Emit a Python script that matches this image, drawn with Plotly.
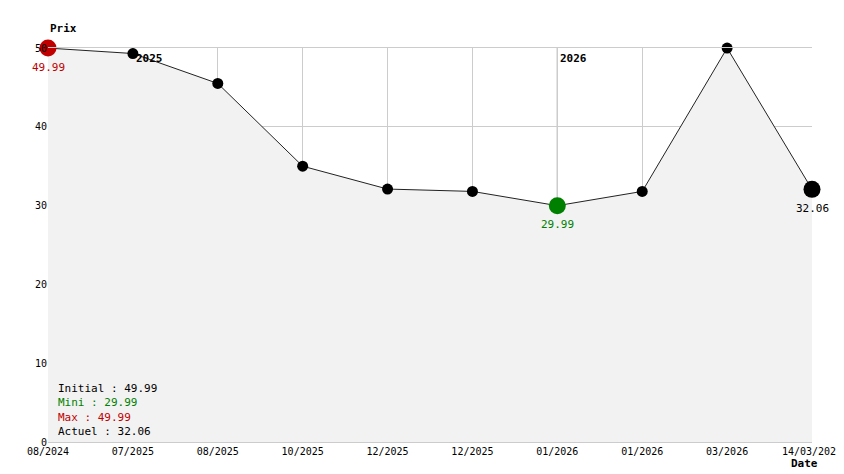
import plotly.graph_objects as go

dates = ["08/2024", "07/2025", "08/2025", "10/2025", "12/2025", "12/2025",
         "01/2026", "01/2026", "03/2026", "14/03/2026"]
prices = [49.99, 49.3, 45.5, 35.0, 32.1, 31.8, 29.99, 31.8, 49.99, 32.06]
year_marks = [(1, "2025"), (6, "2026")]

x = list(range(len(dates)))
FONT = "DejaVu Sans Mono"

sizes = [11] * len(x)
colors = ["black"] * len(x)
sizes[0], colors[0] = 17, "#c00000"
sizes[6], colors[6] = 17, "#008000"
sizes[-1] = 17

fig = go.Figure()
fig.add_trace(go.Scatter(
    x=x, y=prices, mode="lines+markers", fill="tozeroy", fillcolor="#f2f2f2",
    line=dict(color="#222", width=1), cliponaxis=False,
    marker=dict(size=sizes, color=colors, opacity=1, line=dict(width=0)),
    hoverinfo="skip"))

for i, yr in year_marks:
    fig.add_shape(type="line", x0=i, x1=i, y0=0, y1=50, layer="below",
                  line=dict(color="#666", width=1))
    fig.add_annotation(x=i, y=50, text="<b>" + yr + "</b>", showarrow=False,
                       xanchor="left", yanchor="top", yshift=-2, xshift=1,
                       font=dict(size=11, color="black", family=FONT))

fig.add_annotation(x=0, y=prices[0], text="49.99", showarrow=False, yshift=-19,
                   font=dict(size=11, color="#c00000", family=FONT))
fig.add_annotation(x=6, y=prices[6], text="29.99", showarrow=False, yshift=-19,
                   font=dict(size=11, color="#008000", family=FONT))
fig.add_annotation(x=9, y=prices[9], text="32.06", showarrow=False, yshift=-19,
                   font=dict(size=11, color="black", family=FONT))

legend = ("Initial : 49.99<br><span style='color:#008000'>Mini : 29.99</span><br>"
          "<span style='color:#c00000'>Max : 49.99</span><br>Actuel : 32.06")
fig.add_annotation(xref="paper", yref="paper", x=0.01, y=0.0, yshift=2, text=legend,
                   showarrow=False, xanchor="left", yanchor="bottom", align="left",
                   font=dict(size=11, color="black", family=FONT))
fig.add_annotation(xref="paper", yref="paper", x=0.0, y=1.0, yshift=28, text="<b>Prix</b>",
                   showarrow=False, xanchor="left", font=dict(size=11, family=FONT))
fig.add_annotation(xref="paper", yref="paper", x=1.0, y=0.0, yshift=-30, xshift=8,
                   text="<b>Date</b>", showarrow=False, xanchor="right",
                   font=dict(size=11, family=FONT))

fig.update_layout(
    width=844, height=474, margin=dict(l=40, r=40, t=40, b=40),
    plot_bgcolor="white", paper_bgcolor="white", showlegend=False,
    font=dict(family=FONT, size=10, color="black"),
    xaxis=dict(range=[0, 9], tickvals=x, ticktext=dates, showgrid=True, automargin=False,
               gridcolor="#cccccc", zeroline=False, showline=True, linecolor="#cccccc",
               mirror=True, ticks="", tickangle=0),
    yaxis=dict(range=[0, 50], dtick=10, showgrid=True, gridcolor="#cccccc", automargin=False,
               zeroline=False, showline=False, ticks=""),
)
fig.write_html("out.html")
